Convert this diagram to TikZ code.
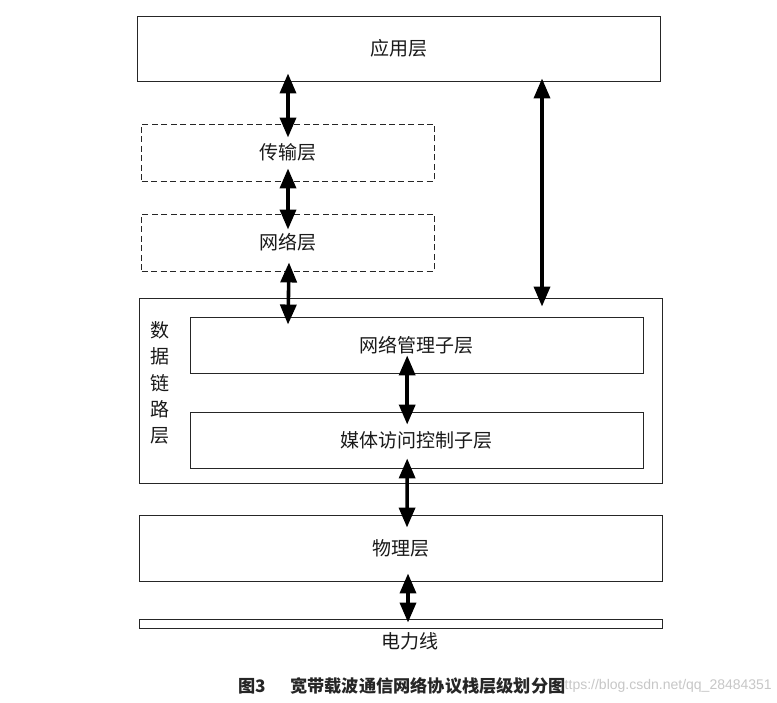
\documentclass[tikz,border=0pt]{standalone}
\usepackage{fontspec}
\newfontfamily\cjk{Noto Sans CJK SC}
\setsansfont{Liberation Sans}
\usetikzlibrary{arrows.meta,calc}
\begin{document}
\begin{tikzpicture}[x=1pt,y=-1pt,
  every node/.style={font=\cjk\fontsize{19}{22}\selectfont, inner sep=0pt, text=black!90},
  box/.style={draw=black!85, line width=0.9pt},
  dbox/.style={draw=black!85, line width=0.9pt, dash pattern=on 6pt off 3.5pt},
  dbl/.style={{Triangle[width=16pt,length=20pt]}-{Triangle[width=16pt,length=20pt]}, line width=3.6pt, black}
]
\useasboundingbox (0,0) rectangle (777,703);
\fill[white] (0,0) rectangle (777,703);
% boxes
\node[box, minimum width=523pt, minimum height=65pt] (app) at (398.5,48.5) {应用层};
\node[dbox, minimum width=293pt, minimum height=57pt] (trans) at (288,152.5) {传输层};
\node[dbox, minimum width=293pt, minimum height=57pt] (net) at (288,242.5) {网络层};
\node[box, minimum width=523pt, minimum height=185pt] (dl) at (400.5,390.5) {};
\node[align=center, font=\cjk\fontsize{19}{26.3}\selectfont] (dllab) at (160,383) {数\\据\\链\\路\\层};
\node[box, minimum width=453.5pt, minimum height=56pt] (nm) at (416.7,345) {网络管理子层};
\node[box, minimum width=453.5pt, minimum height=56pt] (mac) at (416.7,440) {媒体访问控制子层};
\node[box, minimum width=523pt, minimum height=66pt] (phy) at (400.5,548) {物理层};
\node[box, minimum width=523pt, minimum height=9pt] (pl) at (400.5,623.5) {};
\node (pltext) at (410,641) {电力线};
% watermark and caption
\node[anchor=east, font=\sffamily\fontsize{14}{16}\selectfont, text=black!22] (wm) at (772,686) {https://blog.csdn.net/qq\_28484351};
\node[font=\cjk\bfseries\fontsize{17.2}{22}\selectfont, text=black!85] (cap) at (402,686) {图3\hspace{1.4em}宽带载波通信网络协议栈层级划分图};
% arrows
\draw[dbl] ([yshift=8pt]app.south -| trans.center) -- ([yshift=-14pt]trans.north);
\draw[dbl] ([yshift=13pt]trans.south) -- ([yshift=-16pt]net.north);
\draw[dbl] ([xshift=1pt,yshift=9pt]net.south) -- ([yshift=-8pt]nm.north -| net.south);
\draw[dbl] ([xshift=143.5pt,yshift=3pt]app.south) -- ([xshift=141.5pt,yshift=-9pt]dl.north);
\draw[dbl] ([xshift=-9.5pt,yshift=18pt]nm.south) -- ([xshift=-9.5pt,yshift=-13pt]mac.north);
\draw[dbl] ([xshift=-9.5pt,yshift=10pt]mac.south) -- ([xshift=6.5pt,yshift=-13pt]phy.north);
\draw[dbl] ([xshift=7.5pt,yshift=8pt]phy.south) -- ([xshift=7.5pt,yshift=-4pt]pl.north);
\end{tikzpicture}
\end{document}
